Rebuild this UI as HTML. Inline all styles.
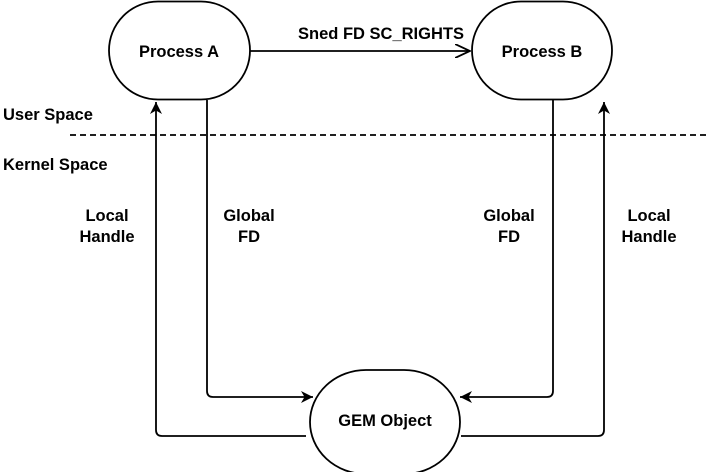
<!DOCTYPE html>
<html><head><style>body{margin:0;background:#fff}svg{display:block}text{font-family:"Liberation Sans",Arial,sans-serif;font-weight:bold;font-size:16.5px;fill:#000}</style></head>
<body><svg width="708" height="472" viewBox="0 0 708 472" xmlns="http://www.w3.org/2000/svg">
<defs>
<marker id="f" markerWidth="14" markerHeight="12" refX="12" refY="6" orient="auto" markerUnits="userSpaceOnUse"><path d="M0,0 L12,6 L0,12 L3.5,6 Z" fill="#000"/></marker>
<marker id="o" markerWidth="16" markerHeight="14" refX="15" refY="7" orient="auto" markerUnits="userSpaceOnUse"><path d="M0,0 L15,7 L0,14" fill="none" stroke="#000" stroke-width="1.8"/></marker>
</defs>
<g fill="none" stroke="#000" stroke-width="1.8">
<rect x="109" y="1.5" width="141" height="98" rx="49" ry="49" fill="#fff"/>
<rect x="472" y="1.5" width="140" height="98" rx="49" ry="49" fill="#fff"/>
<rect x="310" y="370" width="150" height="104" rx="56" ry="52" fill="#fff"/>
<line x1="250" y1="51" x2="470" y2="51" marker-end="url(#o)"/>
<line x1="70" y1="135" x2="708" y2="135" stroke-dasharray="6,4"/>
<path d="M306,436 H162 Q156,436 156,430 V102" marker-end="url(#f)"/>
<path d="M207,100 V391 Q207,397 213,397 H313" marker-end="url(#f)"/>
<path d="M553,100 V391 Q553,397 547,397 H460" marker-end="url(#f)"/>
<path d="M461,436 H598 Q604,436 604,430 V102" marker-end="url(#f)"/>
</g>
<text x="179" y="57" text-anchor="middle">Process A</text>
<text x="542" y="57" text-anchor="middle">Process B</text>
<text x="385" y="426" text-anchor="middle">GEM Object</text>
<text x="381" y="39" text-anchor="middle">Sned FD SC_RIGHTS</text>
<text x="3" y="120">User Space</text>
<text x="3" y="170">Kernel Space</text>
<text x="107" y="221" text-anchor="middle">Local</text>
<text x="107" y="242" text-anchor="middle">Handle</text>
<text x="249" y="221" text-anchor="middle">Global</text>
<text x="249" y="242" text-anchor="middle">FD</text>
<text x="509" y="221" text-anchor="middle">Global</text>
<text x="509" y="242" text-anchor="middle">FD</text>
<text x="649" y="221" text-anchor="middle">Local</text>
<text x="649" y="242" text-anchor="middle">Handle</text>
</svg></body></html>
